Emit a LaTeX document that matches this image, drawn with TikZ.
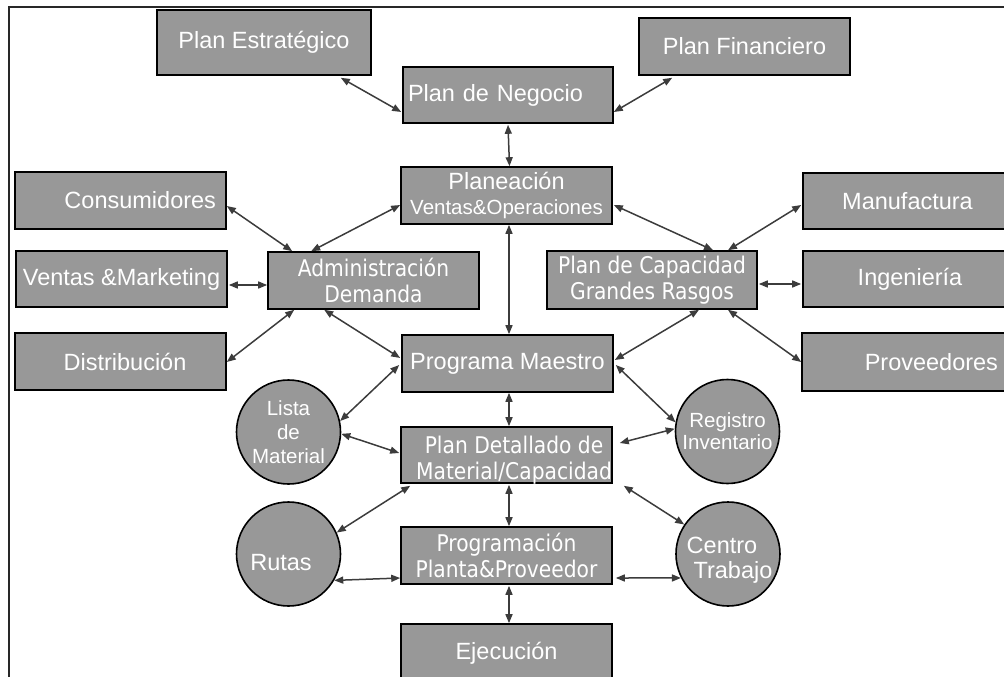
\documentclass[tikz,border=0pt]{standalone}
\usepackage{fontspec}
\setmainfont{Liberation Sans}
\newfontfamily\tahfont[FakeStretch=0.88]{DejaVu Sans}
\usetikzlibrary{arrows.meta,calc}
\definecolor{boxgray}{RGB}{152,152,152}
\definecolor{linkgray}{RGB}{60,60,60}
\definecolor{framegray}{RGB}{40,40,40}
\begin{document}
\begin{tikzpicture}[x=1pt,y=-1pt,
  box/.style={draw=black,line width=1.6pt,fill=boxgray,text=white,inner sep=0pt,
    minimum width=211pt,minimum height=57pt,align=center,
    font=\fontsize{23.5}{26}\selectfont},
  disc/.style={circle,draw=black,line width=1.6pt,fill=boxgray,text=white,
    inner sep=0pt,minimum size=104pt,align=center},
  lbl/.style={text=white,inner sep=0pt,align=center,font=\fontsize{23.5}{26}\selectfont},
  tah/.style={font=\tahfont\fontsize{23}{26}\selectfont},
  small/.style={font=\fontsize{20.5}{23}\selectfont},
  link/.style={draw=linkgray,line width=1.5pt,
    {Triangle[length=9pt,width=7pt]}-{Triangle[length=9pt,width=7pt]}},
]
\useasboundingbox (0,0) rectangle (1004,677);

% outer frame (top and left edges)
\draw[framegray,line width=2pt] (9,680) -- (9,7) -- (1006,7);

% top level plans
\node[box,minimum width=214pt,minimum height=65pt] (pe) at (264,42.5) {Plan Estratégico};
\node[box] (pf) at (744.5,46.5) {Plan Financiero};
\node[box,minimum width=210pt,minimum height=56pt,text width=200pt,inner xsep=5pt,align=left]
  (pn) at (508,95) {Plan de Negocio};
\node[box] (pv) at (506.5,195.5) {Planeación\\[-1pt]{\fontsize{20.5}{23}\selectfont Ventas\&Operaciones}};

% demand side
\node[box,text width=191pt,inner xsep=10pt,align=right] (cons) at (120.5,200.5) {Consumidores};
\node[box,minimum height=56pt] (vm) at (121.5,279) {Ventas \&Marketing};
\node[box] (dist) at (120.5,361.5) {\hspace*{9pt}Distribución};
\node[box,tah] (adm) at (373.5,280.5) {Administración\\Demanda};

% capacity side
\node[box,tah,minimum width=210pt,minimum height=58pt] (pc) at (652,280) {Plan de Capacidad\\Grandes Rasgos};
\node[box,minimum width=209pt,minimum height=56pt] (manu) at (907.5,201) {Manufactura};
\node[box,minimum width=209pt,minimum height=56pt] (ing) at (907.5,279) {\hspace*{5pt}Ingeniería};
\node[box,minimum width=210pt,minimum height=58pt,text width=182pt,inner xsep=14pt,align=right]
  (prov) at (907,362) {Proveedores};

% execution chain
\node[box] (pm) at (507.5,363.5) {Programa Maestro};
\node[box,minimum height=56pt] (pd) at (506.5,455) {};
\node[lbl,tah] (pdT) at (514,460) {Plan Detallado de\\Material/Capacidad};
\node[box,tah] (pp) at (506.5,555.5) {Programación\\Planta\&Proveedor};
\node[box,minimum height=58pt] (ej) at (506.5,653) {Ejecución};

% supporting records
\node[disc,small,font=\fontsize{20.5}{24}\selectfont] (lm) at (288.5,432) {Lista\\de\\Material};
\node[disc,font=\fontsize{20.5}{22}\selectfont] (ri) at (727.5,431.5) {Registro\\Inventario};
\node[disc] (rut) at (288.5,554) {};
\node[lbl,text height=17pt,text depth=0pt] (rutT) at (281,562) {Rutas};
\node[disc] (ct) at (728,554) {};
\node[lbl,text height=17pt,text depth=0pt] (ctA) at (722,545) {Centro};
\node[lbl,text height=17pt,text depth=0pt] (ctB) at (733,570) {Trabajo};

% connectors
\draw[link] ($(pe.south east)+(-31,2)$) -- ($(pn.west)+(-1,17)$);
\draw[link] ($(pf.south west)+(34,2)$) -- ($(pn.east)+(0,17)$);
\draw[link] ($(pn.south)+(0,1)$) -- ($(pv.north)+(3,0)$);
\draw[link] ($(cons.east)+(0,5.5)$) -- ($(adm.north west)+(25,0)$);
\draw[link] ($(pv.west)+(0,9.5)$) -- ($(adm.north west)+(44,0)$);
\draw[link] ($(vm.east)+(1,6)$) -- ($(adm.west)+(0,4.5)$);
\draw[link] ($(dist.east)+(0,0.5)$) -- ($(adm.south west)+(27,0)$);
\draw[link] ($(adm.south west)+(57,0)$) -- ($(pm.west)+(-1,-5.5)$);
\draw[link] (lm.12) -- ($(pm.west)+(-2,1.5)$);
\draw[link] (lm.-2) -- ($(pd.west)+(-1,-2)$);
\draw[link] ($(pm.south)+(1.5,0)$) -- ($(pd.north)+(2.5,0)$);
\draw[link] ($(pm.east)+(2,1.5)$) -- (ri.170);
\draw[link] (ri.177) -- ($(pd.east)+(7,-12)$);
\draw[link] ($(pd.south west)+(10,2)$) -- (rut.24);
\draw[link] ($(pd.south)+(2.5,1)$) -- ($(pp.north)+(2.5,0)$);
\draw[link] ($(pd.south east)+(11,2)$) -- (ct.146);
\draw[link] (rut.-30) -- ($(pp.west)+(0,22.5)$);
\draw[link] ($(pp.east)+(3,22.5)$) -- (ct.207);
\draw[link] ($(pp.south)+(2.5,1)$) -- ($(ej.north)+(2.5,0)$);
\draw[link] ($(pv.east)+(1,9.5)$) -- ($(pc.north)+(61,0)$);
\draw[link] ($(manu.west)+(-1,4)$) -- ($(pc.north)+(76,0)$);
\draw[link] ($(pc.east)+(1,4)$) -- ($(ing.west)+(-1,5)$);
\draw[link] (prov.west) -- ($(pc.south)+(76,0)$);
\draw[link] ($(pc.south)+(47,0)$) -- ($(pm.east)+(1,-3.5)$);
\draw[link] ($(pv.south)+(2.5,0)$) -- ($(pm.north)+(1.5,0)$);
\end{tikzpicture}
\end{document}
